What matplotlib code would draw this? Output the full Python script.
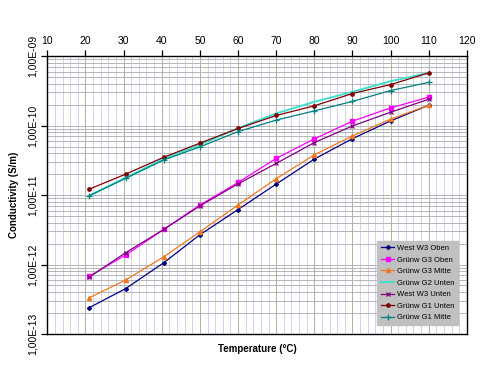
import math
import matplotlib
matplotlib.use("Agg")
import matplotlib.pyplot as plt
from matplotlib.ticker import FixedLocator, MultipleLocator, LogLocator, NullFormatter, FuncFormatter

plt.rcParams['font.family'] = ['Liberation Sans', 'DejaVu Sans']

temps = [21, 30.5, 40.5, 50, 60, 70, 80, 90, 100, 110]

west_w3_oben  = [2.4e-13, 4.5e-13, 1.06e-12, 2.69e-12, 6.2e-12, 1.44e-11, 3.3e-11, 6.5e-11, 1.17e-10, 1.97e-10]
gruenw_g3_oben = [6.8e-13, 1.37e-12, 3.2e-12, 7.2e-12, 1.52e-11, 3.37e-11, 6.45e-11, 1.16e-10, 1.80e-10, 2.57e-10]
gruenw_g3_mitte = [3.33e-13, 5.98e-13, 1.29e-12, 2.96e-12, 7.2e-12, 1.72e-11, 3.8e-11, 7.1e-11, 1.24e-10, 1.97e-10]
gruenw_g2_unten = [9.8e-12, 1.78e-11, 3.3e-11, 5.3e-11, 9.2e-11, 1.5e-10, 2.2e-10, 3.07e-10, 4.36e-10, 5.75e-10]
west_w3_unten = [6.6e-13, 1.48e-12, 3.2e-12, 7.0e-12, 1.45e-11, 2.86e-11, 5.7e-11, 9.9e-11, 1.56e-10, 2.4e-10]
gruenw_g1_unten = [1.22e-11, 2.0e-11, 3.5e-11, 5.6e-11, 9.1e-11, 1.40e-10, 1.93e-10, 2.9e-10, 3.9e-10, 5.75e-10]
gruenw_g1_mitte = [9.8e-12, 1.74e-11, 3.2e-11, 4.95e-11, 8.2e-11, 1.2e-10, 1.63e-10, 2.23e-10, 3.2e-10, 4.2e-10]

labels = ["West W3 Oben", "Grünw G3 Oben", "Grünw G3 Mitte", "Grünw G2 Unten",
          "West W3 Unten", "Grünw G1 Unten", "Grünw G1 Mitte"]
x_ticks = [10, 20, 30, 40, 50, 60, 70, 80, 90, 100, 110, 120]
y_ticks = [1e-13, 1e-12, 1e-11, 1e-10, 1e-9]

fig = plt.figure(figsize=(4.93, 3.72), dpi=100)
ax = fig.add_axes([0.096, 0.102, 0.851, 0.747])

styles = [
    (west_w3_oben, dict(color='#000080', marker='D', ms=2.0, lw=0.9)),
    (gruenw_g3_oben, dict(color='#FF00FF', marker='s', ms=2.8, lw=0.9)),
    (gruenw_g3_mitte, dict(color='#F07820', marker='^', ms=3.0, lw=0.9)),
    (gruenw_g2_unten, dict(color='#40E0D0', marker=None, lw=1.4)),
    (west_w3_unten, dict(color='#800080', marker='x', ms=3.0, mew=0.9, lw=0.9)),
    (gruenw_g1_unten, dict(color='#800000', marker='o', ms=2.4, lw=0.9)),
    (gruenw_g1_mitte, dict(color='#008080', marker='+', ms=4.0, mew=0.9, lw=0.9)),
]
for (vals, st), lab in zip(styles, labels):
    ax.plot(temps, vals, label=lab, **st)

ax.set_yscale('log')
ax.set_xlim(10, 120)
ax.set_ylim(1e-13, 1e-9)

ax.xaxis.set_major_locator(FixedLocator(x_ticks))
ax.xaxis.set_minor_locator(MultipleLocator(2))
ax.yaxis.set_major_locator(FixedLocator(y_ticks))
ax.yaxis.set_minor_locator(LogLocator(base=10, subs=range(2, 10)))
ax.yaxis.set_minor_formatter(NullFormatter())

def yfmt(v, pos):
    e = int(round(math.log10(v)))
    return "1,00E-%02d" % (-e)
ax.yaxis.set_major_formatter(FuncFormatter(yfmt))

ax.xaxis.tick_top()
ax.tick_params(axis='x', which='major', top=True, bottom=False, direction='out', length=4, width=0.9, labelsize=7.5, pad=3)
ax.tick_params(axis='x', which='minor', top=False, bottom=False)
ax.tick_params(axis='y', which='major', direction='out', length=4, width=0.9, labelsize=7.5, pad=3)
ax.tick_params(axis='y', which='minor', left=False)
for lbl in ax.get_yticklabels():
    lbl.set_rotation(90)
    lbl.set_va('center')

ax.grid(True, axis='x', which='minor', color='#CACAF2', lw=0.6)
ax.grid(True, axis='x', which='major', color='#A4A4A4', lw=0.6)
ax.grid(True, axis='y', which='both', color='#ABABAB', lw=0.6)
ax.set_axisbelow(True)

for side in ['top', 'left', 'right', 'bottom']:
    ax.spines[side].set_linewidth(1.0)

ax.set_xlabel("Temperature (°C)", fontsize=7, fontweight='bold', labelpad=7)
ax.xaxis.set_label_position('bottom')
ax.set_ylabel("Conductivity (S/m)", fontsize=7, fontweight='bold', labelpad=6)

leg = ax.legend(loc='lower right', bbox_to_anchor=(0.929, 0.126), bbox_transform=fig.transFigure,
                fontsize=5.5, frameon=True, fancybox=False, handlelength=1.8, handletextpad=0.3,
                labelspacing=0.55, borderpad=0.5, borderaxespad=0)
leg.get_frame().set_facecolor('#C0C0C0')
leg.get_frame().set_edgecolor('#C0C0C0')
leg.get_frame().set_alpha(1)

fig.savefig("out.png", dpi=100)
